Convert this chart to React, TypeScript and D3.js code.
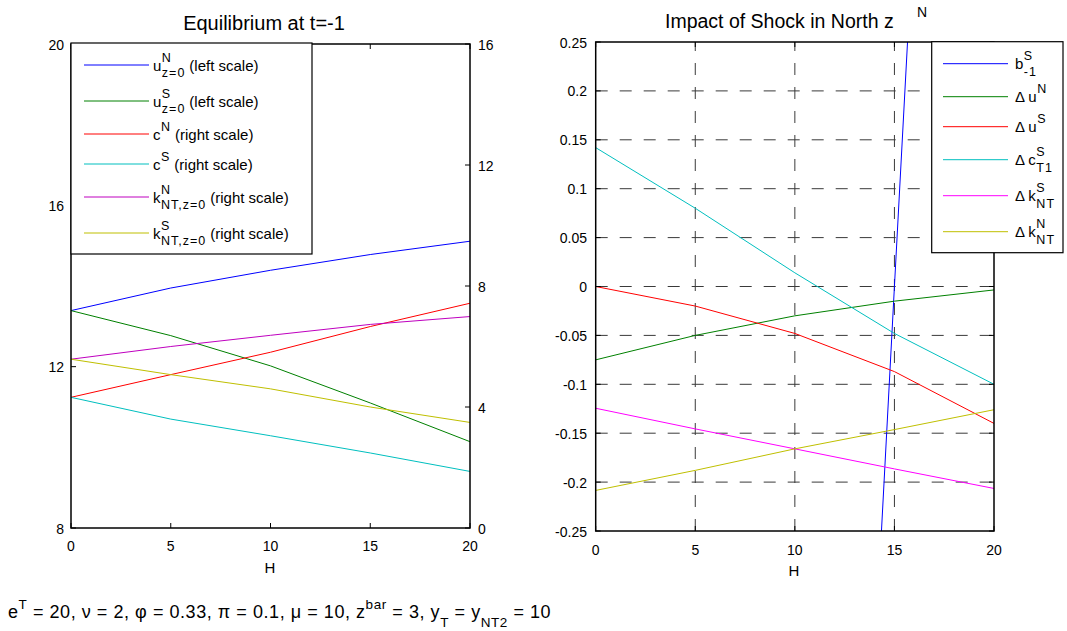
import { useEffect, useRef } from "react";
import * as d3 from "d3";

// H grid used by both panels
const H = [0, 5, 10, 15, 20];

// left panel: equilibrium at t=-1
const uN = [13.39, 13.95, 14.39, 14.78, 15.11];
const uS = [13.39, 12.77, 12.02, 11.1, 10.14];
const cN = [4.32, 5.07, 5.81, 6.66, 7.43];
const cS = [4.32, 3.6, 3.05, 2.48, 1.87];
const kN = [5.58, 6.0, 6.37, 6.73, 6.99];
const kS = [5.58, 5.07, 4.6, 4.0, 3.49];

// right panel: impact of shock in North z^N
const bS = [-5.75, -3.84, -1.92, 0.0, 1.9];
const duN = [-0.075, -0.05, -0.03, -0.015, -0.0035];
const duS = [0, -0.02, -0.048, -0.087, -0.14];
const dcS = [0.142, 0.08, 0.014, -0.048, -0.1];
const dkS = [-0.1245, -0.1456, -0.166, -0.1865, -0.2065];
const dkN = [-0.2085, -0.188, -0.166, -0.1463, -0.126];

const xTicks = [0, 5, 10, 15, 20];
const leftTicks = [8, 12, 16, 20];
const rightTicks = [0, 4, 8, 12, 16];
const shockTicks = [0.25, 0.2, 0.15, 0.1, 0.05, 0, -0.05, -0.1, -0.15, -0.2, -0.25];

const FONT = "'Liberation Sans', Arial, Helvetica, sans-serif";

const leftSeries = [
  { values: uN, color: "#0000ff", scale: "left", pre: "", base: "u", sup: "N", sub: "z=0", tail: " (left scale)" },
  { values: uS, color: "#008000", scale: "left", pre: "", base: "u", sup: "S", sub: "z=0", tail: " (left scale)" },
  { values: cN, color: "#ff0000", scale: "right", pre: "", base: "c", sup: "N", sub: "", tail: " (right scale)" },
  { values: cS, color: "#00bfbf", scale: "right", pre: "", base: "c", sup: "S", sub: "", tail: " (right scale)" },
  { values: kN, color: "#bf00bf", scale: "right", pre: "", base: "k", sup: "N", sub: "NT,z=0", tail: "(right scale)" },
  { values: kS, color: "#bfbf00", scale: "right", pre: "", base: "k", sup: "S", sub: "NT,z=0", tail: "(right scale)" },
];

const rightSeries = [
  { values: bS, color: "#0000ff", pre: "", base: "b", sup: "S", sub: "-1", tail: "" },
  { values: duN, color: "#008000", pre: "\u0394 ", base: "u", sup: "N", sub: "", tail: "" },
  { values: duS, color: "#ff0000", pre: "\u0394 ", base: "u", sup: "S", sub: "", tail: "" },
  { values: dcS, color: "#00bfbf", pre: "\u0394 ", base: "c", sup: "S", sub: "T1", tail: "" },
  { values: dkS, color: "#ff00ff", pre: "\u0394 ", base: "k", sup: "S", sub: "NT", tail: "" },
  { values: dkN, color: "#bfbf00", pre: "\u0394 ", base: "k", sup: "N", sub: "NT", tail: "" },
];

function richText(g, x, y, e) {
  const t1 = g.append("text").attr("x", x).attr("y", y).attr("font-size", 15).text(e.pre + e.base);
  const cx = x + t1.node().getComputedTextLength() + 0.5;
  let w = 0;
  if (e.sup) {
    const s = g.append("text").attr("x", cx).attr("y", y - 9).attr("font-size", 12.5).attr("letter-spacing", 1).text(e.sup);
    w = Math.max(w, s.node().getComputedTextLength());
  }
  if (e.sub) {
    const s = g.append("text").attr("x", cx).attr("y", y + 6.5).attr("font-size", 12.5).attr("letter-spacing", 1).text(e.sub);
    w = Math.max(w, s.node().getComputedTextLength());
  }
  if (e.tail) {
    g.append("text").attr("x", cx + w + 4).attr("y", y).attr("font-size", 15).text(e.tail);
  }
}

function legend(svg, items, x, top, width, lineX0, lineX1, textX) {
  const g = svg.append("g");
  // row spacing grows when a row carries a subscript
  const ys = [];
  let y = top + 22;
  items.forEach((it, i) => {
    if (i > 0) y += 30 + (items[i - 1].sub ? 3 : 0) + (it.sub ? 3 : 0);
    ys.push(y);
  });
  const h = ys[ys.length - 1] + 21 - top;
  g.append("rect").attr("x", x).attr("y", top).attr("width", width).attr("height", h)
    .attr("fill", "#fff").attr("stroke", "#000").attr("stroke-width", 1.2);
  items.forEach((it, i) => {
    g.append("line").attr("x1", x + lineX0).attr("x2", x + lineX1).attr("y1", ys[i]).attr("y2", ys[i])
      .attr("stroke", it.color).attr("stroke-width", 1);
    richText(g, x + textX, ys[i] + 5.5, it);
  });
}

function frame(svg, x, y, ticksX, ticksYL, yL, ticksYR, yR) {
  const g = svg.append("g").attr("stroke", "#000");
  const [x0, x1] = x.range();
  const [y0, y1] = y.range();
  ticksX.forEach((t) => {
    g.append("line").attr("x1", x(t)).attr("x2", x(t)).attr("y1", y0).attr("y2", y0 - 5);
    g.append("line").attr("x1", x(t)).attr("x2", x(t)).attr("y1", y1).attr("y2", y1 + 5);
  });
  ticksYL.forEach((t) => g.append("line").attr("x1", x0).attr("x2", x0 + 5).attr("y1", yL(t)).attr("y2", yL(t)));
  ticksYR.forEach((t) => g.append("line").attr("x1", x1).attr("x2", x1 - 5).attr("y1", yR(t)).attr("y2", yR(t)));
  g.append("rect").attr("x", x0).attr("y", y1).attr("width", x1 - x0).attr("height", y0 - y1)
    .attr("fill", "none").attr("stroke-width", 1.5);
}

export default function App() {
  const ref = useRef(null);

  useEffect(() => {
    const svg = d3.select(ref.current);
    svg.selectAll("*").remove();

    // ---------- left panel ----------
    const xL = d3.scaleLinear().domain([0, 20]).range([71, 470]);
    const yLeft = d3.scaleLinear().domain([8, 20]).range([528, 44]);
    const yRight = d3.scaleLinear().domain([0, 16]).range([528, 44]);

    leftSeries.forEach((s) => {
      const sc = s.scale === "left" ? yLeft : yRight;
      const line = d3.line().x((d, i) => xL(H[i])).y((d) => sc(d));
      svg.append("path").attr("d", line(s.values)).attr("fill", "none")
        .attr("stroke", s.color).attr("stroke-width", 1);
    });
    frame(svg, xL, yLeft, xTicks, leftTicks, yLeft, rightTicks, yRight);

    const lbl = svg.append("g").attr("font-size", 14).attr("fill", "#000");
    xTicks.forEach((t) => lbl.append("text").attr("x", xL(t)).attr("y", 551).attr("text-anchor", "middle").text(t));
    leftTicks.forEach((t) => lbl.append("text").attr("x", 64).attr("y", yLeft(t) + 5.5).attr("text-anchor", "end").text(t));
    rightTicks.forEach((t) => lbl.append("text").attr("x", 478).attr("y", yRight(t) + 6).text(t));
    lbl.append("text").attr("x", 270).attr("y", 573).attr("text-anchor", "middle").attr("font-size", 15).text("H");
    svg.append("text").attr("x", 264).attr("y", 30).attr("text-anchor", "middle").attr("font-size", 20)
      .text("Equilibrium at t=-1");

    legend(svg, leftSeries, 71, 43, 241, 13, 78, 82);

    // ---------- right panel ----------
    const xR = d3.scaleLinear().domain([0, 20]).range([595.7, 994]);
    const yS = d3.scaleLinear().domain([-0.25, 0.25]).range([531, 42]);

    svg.append("defs").append("clipPath").attr("id", "clipR").append("rect")
      .attr("x", 595.7).attr("y", 42).attr("width", 994 - 595.7).attr("height", 531 - 42);

    const grid = svg.append("g").attr("stroke", "#3a3a3a").attr("stroke-width", 1).attr("stroke-dasharray", "12,12");
    xTicks.slice(1, -1).forEach((t) =>
      grid.append("line").attr("x1", xR(t)).attr("x2", xR(t)).attr("y1", 531).attr("y2", 42));
    shockTicks.slice(1, -1).forEach((t) =>
      grid.append("line").attr("x1", 595.7).attr("x2", 994).attr("y1", yS(t)).attr("y2", yS(t)));

    const plotR = svg.append("g").attr("clip-path", "url(#clipR)");
    rightSeries.forEach((s) => {
      const line = d3.line().x((d, i) => xR(H[i])).y((d) => yS(d));
      plotR.append("path").attr("d", line(s.values)).attr("fill", "none")
        .attr("stroke", s.color).attr("stroke-width", 1);
    });
    frame(svg, xR, yS, xTicks, shockTicks, yS, shockTicks, yS);

    const lblR = svg.append("g").attr("font-size", 14).attr("fill", "#000");
    xTicks.forEach((t) => lblR.append("text").attr("x", xR(t)).attr("y", 555).attr("text-anchor", "middle").text(t));
    shockTicks.forEach((t) => lblR.append("text").attr("x", 587).attr("y", yS(t) + 5.5)
      .attr("text-anchor", "end").text(String(+t.toFixed(2))));
    lblR.append("text").attr("x", 794).attr("y", 576).attr("text-anchor", "middle").attr("font-size", 15).text("H");
    svg.append("text").attr("x", 665).attr("y", 28).attr("font-size", 19.5).text("Impact of Shock in North z");
    svg.append("text").attr("x", 917).attr("y", 17).attr("font-size", 14).text("N");

    legend(svg, rightSeries, 931.7, 41.7, 131.3, 11.3, 76.3, 83.3);

    // ---------- caption ----------
    const cap = svg.append("text").attr("x", 8).attr("y", 618).attr("font-size", 18).attr("letter-spacing", 0.55);
    const parts = [
      ["e", 0], ["T", 1], [" = 20, \u03bd = 2, \u03c6 = 0.33, \u03c0 = 0.1, \u03bc = 10, z", 0], ["bar", 1],
      [" = 3, y", 0], ["T", -1], [" = y", 0], ["NT2", -1], [" = 10", 0],
    ];
    let level = 0;
    parts.forEach(([t, lv]) => {
      const dy = (level - lv) * 9;
      cap.append("tspan").attr("dy", dy).attr("font-size", lv === 0 ? 18 : 13.5).text(t);
      level = lv;
    });
  }, []);

  return (
    <svg
      ref={ref}
      width={1067}
      height={631}
      style={{ position: "absolute", left: 0, top: 0, background: "#fff", fontFamily: FONT }}
    />
  );
}
